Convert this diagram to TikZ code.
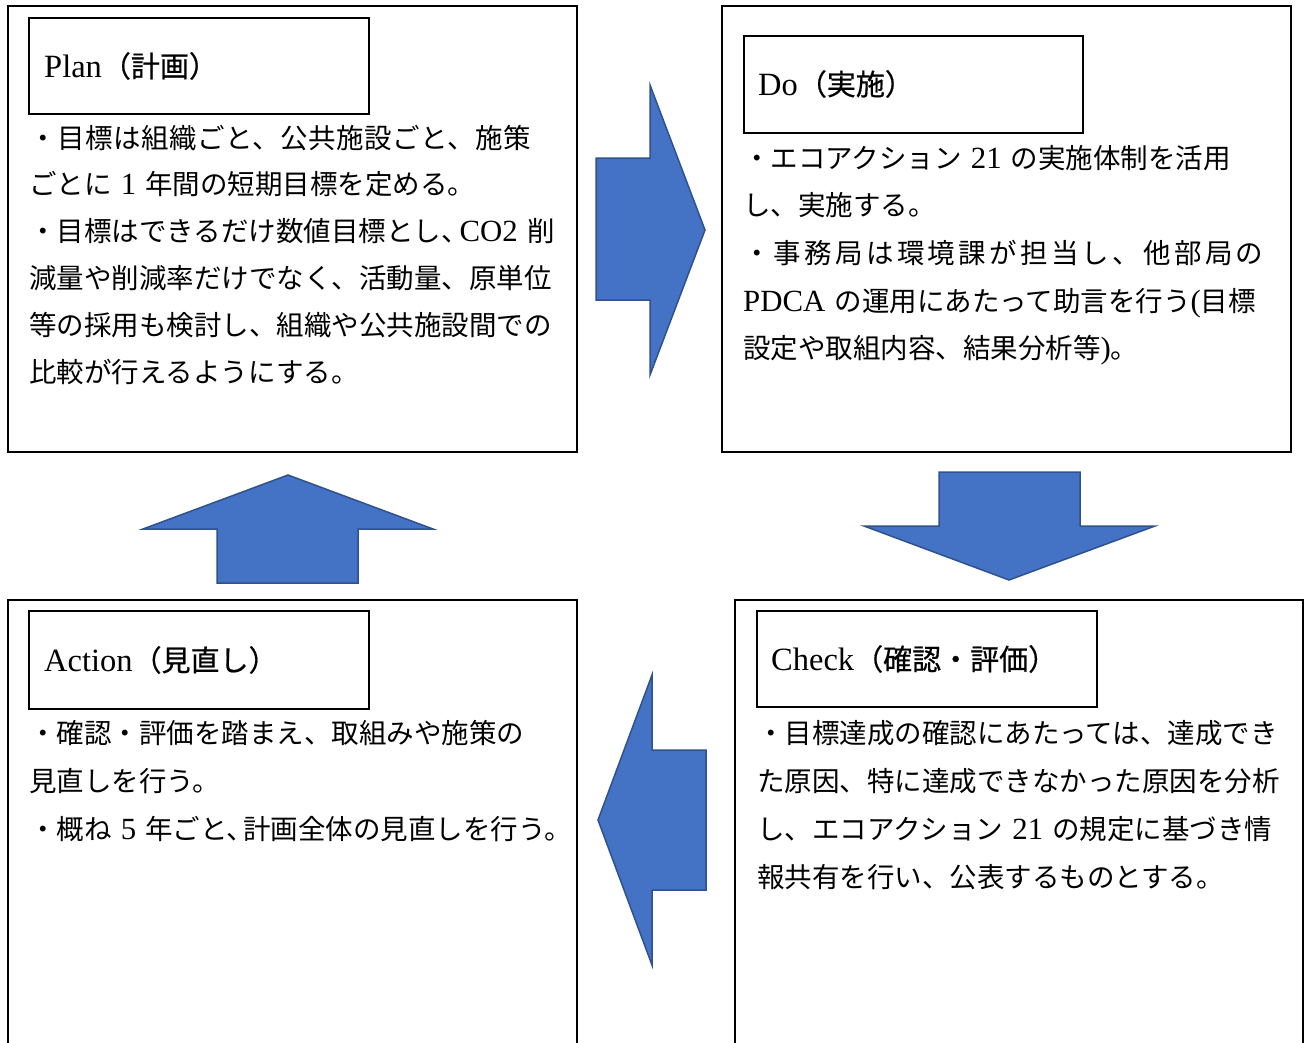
\documentclass[tikz,border=0pt]{standalone}
\usepackage{fontspec}
\setmainfont{Noto Sans CJK JP}
\newfontfamily\latinfont[Scale=1.12]{Liberation Serif}
\newfontfamily\titlejp[FakeBold=0.6]{Noto Sans CJK JP}
\newfontfamily\widejp[LetterSpace=12]{Noto Sans CJK JP}
\newcommand\latn[1]{{\latinfont #1}}
\definecolor{arrowfill}{HTML}{4472C4}
\definecolor{arrowline}{HTML}{2F528F}
\tikzset{
  outerbox/.style={draw=black, line width=2pt, inner sep=0pt, anchor=north west},
  titlebox/.style={draw=black, line width=1.6pt, inner sep=0pt, anchor=north west, minimum width=340pt, minimum height=96pt},
  titletext/.style={inner sep=0pt, anchor=base west, font=\fontsize{29}{34}\selectfont\titlejp},
  bodytext/.style={inner sep=0pt, anchor=base west, text width=580pt, align=left},
  blockarrow/.style={fill=arrowfill, draw=arrowline, line width=1.5pt, line join=miter}
}
\begin{document}
\begin{tikzpicture}[x=1pt, y=-1pt]
\clip (0,0) rectangle (1304,1042);
\fill[white] (0,0) rectangle (1304,1042);

% Outer boxes
\node[outerbox, minimum width=569pt, minimum height=446pt] (plan) at (7,5) {};
\node[outerbox, minimum width=569pt, minimum height=446pt] (do) at (721,5) {};
\node[outerbox, minimum width=569pt, minimum height=480pt] (action) at (7,599) {};
\node[outerbox, minimum width=568pt, minimum height=480pt] (check) at (734,599) {};

% Title boxes
\node[titlebox] (plantitlebox) at (28,17) {};
\node[titlebox, minimum width=339pt, minimum height=97pt] (dotitlebox) at (743,35) {};
\node[titlebox, minimum height=98pt] (actiontitlebox) at (28,610) {};
\node[titlebox] (checktitlebox) at (756,610) {};

% Titles
\node[titletext] (plantitle) at (44,77) {\latn{Plan}（計画）};
\node[titletext] (dotitle) at (758,95) {\latn{Do}（実施）};
\node[titletext] (actiontitle) at (44,671) {\latn{Action}（見直し）};
\node[titletext] (checktitle) at (771,670) {\latn{Check}（確認・評価）};

% Body texts
\node[bodytext, font=\fontsize{27.5}{46.8}\selectfont] (plantext) at (29,148) {%
{\addfontfeature{LetterSpace=2}・目標は組織ごと、公共施設ごと、施策}\\
ごとに\latn{ 1 }年間の短期目標を定める。\\
・目標はできるだけ数値目標とし、\kern-9pt\latn{CO2 }削\\
減量や削減率だけでなく、活動量、原単位\\
等の採用も検討し、組織や公共施設間での\\
比較が行えるようにする。};

\node[bodytext, font=\fontsize{27.5}{47.7}\selectfont] (dotext) at (743,168) {%
・エコアクション\latn{ 21 }の実施体制を活用\\
し、実施する。\\
{\widejp ・事務局は環境課が担当し、他部局の}\\
\latn{PDCA }の運用にあたって助言を行う\latn{(}目標\\
設定や取組内容、結果分析等\latn{)}。};

\node[bodytext, font=\fontsize{27.5}{48}\selectfont] (actiontext) at (29,743) {%
・確認・評価を踏まえ、取組みや施策の\\
見直しを行う。\\
・概ね\latn{ 5 }年ごと、\kern-11pt計画全体の見直しを行う。};

\node[bodytext, font=\fontsize{27.5}{48}\selectfont] (checktext) at (757,743) {%
・目標達成の確認にあたっては、達成でき\\
た原因、特に達成できなかった原因を分析\\
し、エコアクション\latn{ 21 }の規定に基づき情\\
報共有を行い、公表するものとする。};

% Block arrows
\draw[blockarrow] (596,158) -- (650,158) -- (650,85) -- (705,230) -- (650,375) -- (650,300) -- (596,300) -- cycle;
\draw[blockarrow] (939,472) -- (1080,472) -- (1080,526) -- (1155,526) -- (1009,580) -- (864,526) -- (939,526) -- cycle;
\draw[blockarrow] (706,750) -- (652,750) -- (652,675) -- (598,820) -- (652,965) -- (652,890) -- (706,890) -- cycle;
\draw[blockarrow] (217,583) -- (217,529) -- (143,529) -- (288,475) -- (433,529) -- (358,529) -- (358,583) -- cycle;
\end{tikzpicture}
\end{document}
